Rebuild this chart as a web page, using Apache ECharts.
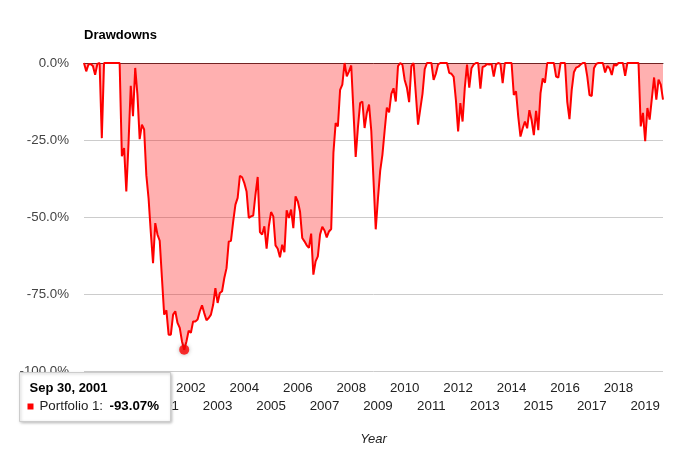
<!DOCTYPE html>
<html><head><meta charset="utf-8">
<script src="https://cdn.jsdelivr.net/npm/echarts@6/dist/echarts.min.js"></script>
<style>html,body{margin:0;padding:0;background:#fff}#c{width:678px;height:454px}</style>
</head><body><div id="c"></div>
<script>
const chartTitle = 'Drawdowns';
const seriesName = 'Portfolio 1';
const xAxisTitle = 'Year';
const firstYear = 1997, firstMonth = 12; // month-end series start
const monthNames = ['Jan','Feb','Mar','Apr','May','Jun','Jul','Aug','Sep','Oct','Nov','Dec'];
const yTicks = [-100, -75, -50, -25, 0];
const xFirstTick = 1998, xLastTick = 2019;
// monthly drawdown (%), Dec 1997 .. Aug 2019
const drawdown = [
  0,
  -2.7, -0.5, -0.3, -1.0, -3.8, -0.3, 0, -24.4, 0, 0, 0, 0,
  0, 0, 0, 0, -30.3, -27.6, -41.7, -26, -7.4, -17.3, -1.6, -10.3,
  -24.7, -20, -21.6, -36.5, -44, -55, -65, -52, -55.7, -57.7, -69.8, -81.7,
  -80.3, -88.2, -88.2, -81.7, -80.6, -84.4, -86, -90.4, -93.07, -90.4, -86.9, -87.6,
  -83.9, -83.9, -83.3, -80.6, -78.7, -81.2, -83.5, -82.8, -81.7, -78.5, -73.1, -77.9,
  -74.7, -74.1, -69.8, -66.6, -58, -57.7, -51.4, -46, -43.8, -36.6, -37.1, -39,
  -41.7, -50.3, -49.8, -49.5, -42.7, -37, -54.9, -55.7, -53, -60.3, -53, -48.4,
  -49.8, -59.2, -60.3, -63.1, -59, -61.4, -47.8, -50.3, -47.6, -53.6, -43.3, -44.9,
  -48.2, -56.8, -57.9, -59.2, -60, -55.4, -68.7, -64.4, -62.8, -55.7, -53.2, -54.4,
  -56.6, -54.7, -53.9, -29.2, -19.5, -20.6, -8.7, -7, 0, -4.3, -2.7, -0.8,
  -15.7, -30.5, -21, -13, -12.5, -21.1, -16.2, -13.5, -22, -38, -54, -44,
  -35, -29.8, -22, -14.5, -16, -10, -8.2, -12.5, -1, 0, -0.6, -5.5,
  -8, -12.7, -1, 0, -10, -20, -15, -10, -2, 0, 0, 0,
  -5.5, -3.5, -0.5, 0, 0, 0, 0, -3.2, -3.5, -4.5, -12, -22.2,
  -13, -19, -8, -0.5, -8, -1.7, -0.5, 0, 0, -8.3, -1.3, -1.0,
  -0.3, -0.5, -0.3, -4.4, -0.5, 0, -0.3, -6.5, 0, 0, 0, 0,
  -10.4, -9.2, -17.4, -23.9, -21.2, -19, -21.2, -15.3, -18.5, -23.4, -15.5, -21.8,
  -9.8, -5, -6.4, 0, 0, 0, 0, -4.4, -4.7, 0, 0, 0,
  -12.6, -18.2, -8.8, -3, -1.5, -1.2, -0.5, 0, 0, -4.4, -10.4, -10.7,
  -1.7, -0.3, 0, 0, 0, -3.1, -1, -1.7, -3.9, -0.5, -0.8, 0,
  0, 0, -4.2, 0, 0, 0, 0, 0, 0, -20.6, -16.2, -25.4,
  -14.6, -18.4, -11.5, -4.7, -11.9, -5.4, -7, -11.9
];

function monthOf(i) {
  const t = firstYear * 12 + (firstMonth - 1) + i;
  return { year: Math.floor(t / 12), month: t % 12 + 1 };
}
function xOf(i) { const d = monthOf(i); return d.year + d.month / 12; }
function dateLabel(i) {
  const d = monthOf(i);
  const day = new Date(d.year, d.month, 0).getDate();
  return monthNames[d.month - 1] + ' ' + day + ', ' + d.year;
}

const points = drawdown.map((v, i) => [xOf(i), v]);
const lowIdx = drawdown.indexOf(Math.min(...drawdown));
const xMax = xOf(drawdown.length - 1);
const FONT = 'Arial, "Liberation Sans", sans-serif';

const chart = echarts.init(document.getElementById('c'), null, { renderer: 'canvas' });
chart.setOption({
  animation: false,
  backgroundColor: '#fff',
  title: {
    text: chartTitle, left: 79, top: 24,
    textStyle: { fontFamily: FONT, fontSize: 13, fontWeight: 'bold', color: '#000' }
  },
  legend: {
    left: 676, top: 66, icon: 'rect', itemWidth: 14, itemHeight: 8,
    data: [{ name: seriesName, itemStyle: { color: 'rgba(255,0,0,0.35)' } }],
    textStyle: { fontFamily: FONT, fontSize: 13, color: '#222' }
  },
  grid: { left: 84, right: 15, top: 63, bottom: 83, containLabel: false, outerBoundsMode: 'none' },
  xAxis: [{
    type: 'value', min: xFirstTick, max: xMax, interval: 1,
    name: xAxisTitle, nameLocation: 'middle', nameGap: 62,
    nameTextStyle: { fontFamily: FONT, fontSize: 13, fontStyle: 'italic', color: '#222' },
    axisLine: { show: false, onZero: false },
    axisTick: { show: false },
    splitLine: { show: false },
    axisLabel: {
      margin: 8, fontFamily: FONT, fontSize: 13.3, color: '#222', lineHeight: 18,
      showMaxLabel: false,
      formatter: function (v) {
        if (Math.abs(v - Math.round(v)) > 1e-6 || v > xLastTick) return '';
        const y = Math.round(v);
        return (y % 2 === 0) ? String(y) : '\n' + y;
      }
    }
  }, {
    type: 'value', position: 'top', min: xFirstTick, max: xMax,
    axisLine: { show: true, onZero: false, lineStyle: { color: '#333', width: 1 } },
    axisTick: { show: false }, axisLabel: { show: false }, splitLine: { show: false }
  }],
  yAxis: {
    type: 'value', min: yTicks[0], max: yTicks[yTicks.length - 1], interval: 25,
    axisLine: { show: false }, axisTick: { show: false },
    splitLine: { show: true, lineStyle: { color: '#ccc', width: 1 } },
    axisLabel: {
      margin: 15, fontFamily: FONT, fontSize: 13.3, color: '#444',
      formatter: v => v.toFixed(1) + '%'
    }
  },
  series: [{
    name: seriesName, type: 'line', xAxisIndex: 0, data: points,
    showSymbol: false, symbol: 'none',
    lineStyle: { color: '#ff0000', width: 2 },
    itemStyle: { color: '#ff0000' },
    areaStyle: { color: '#ff0000', opacity: 0.31 },
    z: 3
  }, {
    name: 'highlight', type: 'scatter', xAxisIndex: 0,
    data: [points[lowIdx]], symbolSize: 10,
    itemStyle: { color: '#ff0000', shadowBlur: 4, shadowColor: 'rgba(0,0,0,0.35)' },
    z: 4, silent: true
  }],
  graphic: [{
    type: 'group', left: 19, top: 372, z: 100, zlevel: 1,
    children: [
      { type: 'rect', z: 100, zlevel: 1, shape: { x: 0, y: 0, width: 151, height: 49 },
        style: { fill: '#fff', stroke: '#ccc', lineWidth: 1, shadowBlur: 3, shadowOffsetX: 1, shadowOffsetY: 1, shadowColor: 'rgba(0,0,0,0.25)' } },
      { type: 'text', z: 101, zlevel: 1, x: 10, y: 9,
        style: { text: dateLabel(lowIdx), font: 'bold 13px ' + FONT, fill: '#000' } },
      { type: 'rect', z: 101, zlevel: 1, shape: { x: 8, y: 31, width: 6, height: 6 }, style: { fill: '#ff0000' } },
      { type: 'text', z: 101, zlevel: 1, x: 20, y: 27,
        style: { text: seriesName + ':', font: '13.3px ' + FONT, fill: '#222' } },
      { type: 'text', z: 101, zlevel: 1, x: 90, y: 27,
        style: { text: drawdown[lowIdx].toFixed(2) + '%', font: 'bold 13.3px ' + FONT, fill: '#000' } }
    ]
  }]
});
</script>
</body></html>
